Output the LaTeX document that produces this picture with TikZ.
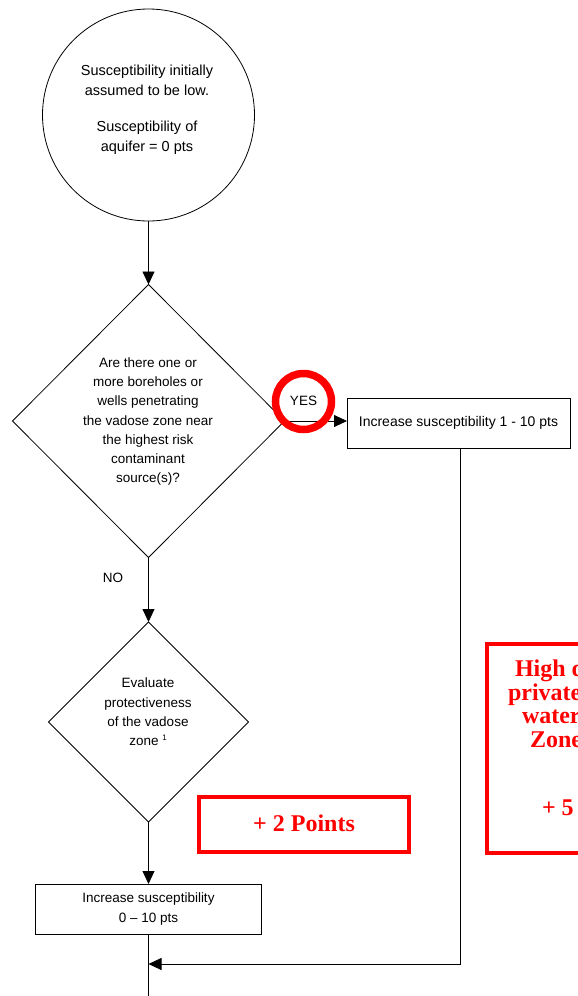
\documentclass[tikz,border=0pt]{standalone}
\usepackage{fontspec}
\setmainfont{Liberation Sans}
\newfontfamily\pointsfont{Liberation Serif}
\usetikzlibrary{shapes.geometric,arrows.meta,calc}

\begin{document}
\begin{tikzpicture}[x=1pt,y=-1pt,
  every node/.style={inner sep=0pt,outer sep=0pt},
  flowline/.style={draw=black,line width=0.8pt},
  flowarrow/.style={flowline,-{Triangle[length=13pt,width=12pt]}},
  startcircle/.style={circle,flowline,minimum size=212pt},
  decision/.style={diamond,flowline,aspect=1},
  stepbox/.style={rectangle,flowline,align=center},
  bodytext/.style={align=center,font=\fontsize{13.5}{19.3}\selectfont},
  pointsbox/.style={rectangle,draw=red,line width=4pt},
  pointstext/.style={text=red,font=\pointsfont\bfseries\fontsize{24}{23.5}\selectfont},
  yesring/.style={draw=red,line width=7.5pt}
]
\useasboundingbox (0,0) rectangle (578,996);
\clip (0,0) rectangle (578,996);

% start: initial susceptibility
\node[startcircle] (start) at (148.5,115) {};
\node[bodytext,font=\fontsize{14.5}{20}\selectfont] (starttext) at (147,110)
  {Susceptibility initially\\assumed to be low.\\[16pt]Susceptibility of\\aquifer = 0 pts};

% first decision: boreholes / wells in the vadose zone
\node[decision,minimum width=272pt,minimum height=273pt] (q1) at (148.5,421) {};
\node[bodytext] (q1text) at (148,421.5)
  {Are there one or\\more boreholes or\\wells penetrating\\the vadose zone near\\the highest risk\\contaminant\\source(s)?};
\draw[flowarrow] (start.south) -- (q1.north);

% YES branch
\node[stepbox,minimum width=223pt,minimum height=50pt,font=\fontsize{14}{19.3}\selectfont] (inc1) at (458.5,423)
  {Increase susceptibility 1 - 10 pts};
\draw[flowarrow] (q1.east) -- (q1.east -| inc1.west);
\draw[yesring] (303.5,401.5) circle (28pt);
\node[bodytext] (yes) at (303.5,401) {YES};

% NO branch
\node[bodytext] (no) at (113,578) {NO};
\node[decision,minimum width=200pt,minimum height=200pt] (q2) at (148.5,722) {};
\node[bodytext] (q2text) at (148,712)
  {Evaluate\\protectiveness\\of the vadose\\zone \raisebox{5pt}{\fontsize{8}{8}\selectfont 1}};
\draw[flowarrow] (q1.south) -- (q2.north);

\node[stepbox,minimum width=226pt,minimum height=50pt,font=\fontsize{13.5}{19.3}\selectfont] (inc2) at (148.5,909)
  {Increase susceptibility\\0 -- 10 pts};
\draw[flowarrow] (q2.south) -- (inc2.north);

% merge of both branches below the second step
\coordinate (merge) at (inc2.south |- 0,964);
\coordinate (exit) at (inc2.south |- 0,996);
\draw[flowline] (inc2.south) -- (exit);
\draw[flowarrow] (inc1.south -| 460,0) |- (merge);

% point notes
\node[pointsbox,minimum width=210pt,minimum height=55pt] (plus2) at (304,824.5) {};
\node[pointstext] (plus2text) at (304,823) {+ 2 Points};

\node[pointsbox,minimum width=210pt,minimum height=209pt] (plus5) at (592,748.5) {};
\node[pointstext,anchor=base west] (l1) at (515,676) {High density of};
\node[pointstext,anchor=base west] (l2) at (508,700) {private drinking};
\node[pointstext,anchor=base west] (l3) at (522,723.5) {water wells in};
\node[pointstext,anchor=base west] (l4) at (530,747) {Zone II area};
\node[pointstext,anchor=base west] (l5) at (542,815) {+ 5 Points};
\end{tikzpicture}
\end{document}
